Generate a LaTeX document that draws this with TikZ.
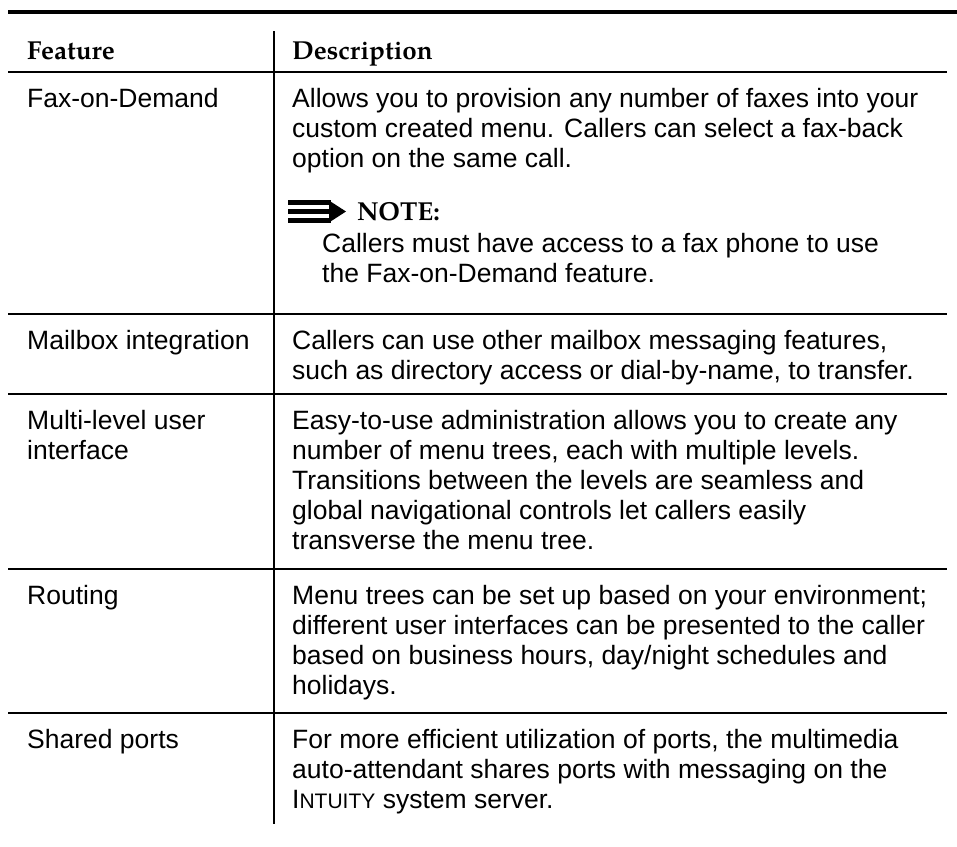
\documentclass[tikz,border=0pt]{standalone}
\usepackage{fontspec}
\setmainfont{Liberation Sans}
\newfontfamily\headfont{texgyrepagella}[Extension=.otf, UprightFont=*-regular, BoldFont=*-bold]
\begin{document}
\begin{tikzpicture}[x=1pt,y=-1pt,
  body/.style={anchor=base west, inner sep=0pt, font=\fontsize{26.5}{30}\selectfont},
  head/.style={anchor=base west, inner sep=0pt, font=\headfont\bfseries\fontsize{26}{30}\selectfont},
  rule/.style={line width=2pt},
  toprule/.style={line width=3.5pt}]
\useasboundingbox (0,0) rectangle (957,846);

% rules
\coordinate (tl) at (8,12);   \coordinate (tr) at (957,12);
\draw[toprule] (tl) -- (tr);
\foreach \y/\n in {72/h, 314/a, 394/b, 569/c, 713/d}{
  \coordinate (\n L) at (8,\y); \coordinate (\n R) at (947,\y);
  \draw[rule] (\n L) -- (\n R);
}
\coordinate (vt) at (273.5,31); \coordinate (vb) at (273.5,824);
\draw[rule] (vt) -- (vb);

% header
\node[head] (hf) at (27,59) {Feature};
\node[head] (hd) at (292,59) {Description};

% Fax-on-Demand
\node[body] (f1) at (27,107) {Fax-on-Demand};
\node[body] (d1a) at (292,107) {Allows you to provision any number of faxes into your};
\node[body] (d1b) at (292,137) {custom created menu. Callers can select a fax-back};
\node[body] (d1c) at (292,167) {option on the same call.};
% note marker: three bars and an arrow head
\fill (288,200) rectangle (331,205);
\fill (288,209) rectangle (331,214);
\fill (288,218) rectangle (331,223);
\fill (329,200.5) -- (346,211.5) -- (329,222.5) -- cycle;
\node[head] (nt) at (357,220) {NOTE:};
\node[body] (n1) at (322,252) {Callers must have access to a fax phone to use};
\node[body] (n2) at (322,282) {the Fax-on-Demand feature.};

% Mailbox integration
\node[body] (f2) at (27,349) {Mailbox integration};
\node[body] (d2a) at (292,349) {Callers can use other mailbox messaging features,};
\node[body] (d2b) at (292,379) {such as directory access or dial-by-name, to transfer.};

% Multi-level user interface
\node[body] (f3a) at (27,429) {Multi-level user};
\node[body] (f3b) at (27,459) {interface};
\node[body] (d3a) at (292,429) {Easy-to-use administration allows you to create any};
\node[body] (d3b) at (292,459) {number of menu trees, each with multiple levels.};
\node[body] (d3c) at (292,489) {Transitions between the levels are seamless and};
\node[body] (d3d) at (292,519) {global navigational controls let callers easily};
\node[body] (d3e) at (292,549) {transverse the menu tree.};

% Routing
\node[body] (f4) at (27,604) {Routing};
\node[body] (d4a) at (292,604) {Menu trees can be set up based on your environment;};
\node[body] (d4b) at (292,634) {different user interfaces can be presented to the caller};
\node[body] (d4c) at (292,664) {based on business hours, day/night schedules and};
\node[body] (d4d) at (292,694) {holidays.};

% Shared ports
\node[body] (f5) at (27,748) {Shared ports};
\node[body] (d5a) at (292,748) {For more efficient utilization of ports, the multimedia};
\node[body] (d5b) at (292,778) {auto-attendant shares ports with messaging on the};
\node[body] (d5c) at (292,808) {I{\fontsize{21}{30}\selectfont NTUITY} system server.};
\end{tikzpicture}
\end{document}
